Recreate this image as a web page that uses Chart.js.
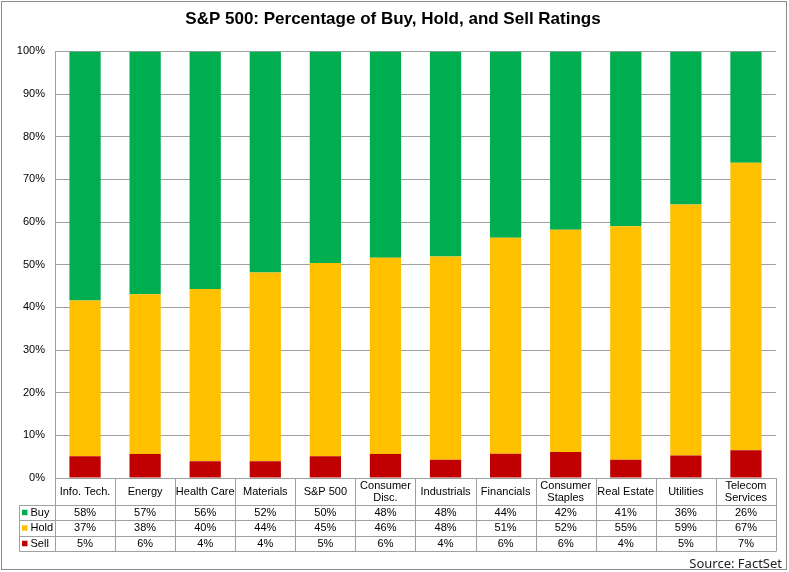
<!DOCTYPE html>
<html>
<head>
<meta charset="utf-8">
<script src="https://cdn.jsdelivr.net/npm/chart.js@4.4.1/dist/chart.umd.min.js"></script>
<style>
  html, body { margin:0; padding:0; background:#fff; }
  #wrap { width:789px; height:572px; position:relative; }
</style>
</head>
<body>
<div id="wrap"><canvas id="chart" width="789" height="572"></canvas></div>
<script>
const categories = [['Info. Tech.'],['Energy'],['Health Care'],['Materials'],['S&P 500'],['Consumer','Disc.'],['Industrials'],['Financials'],['Consumer','Staples'],['Real Estate'],['Utilities'],['Telecom','Services']];
const sellValues = [5.1, 5.6, 3.9, 3.9, 5.1, 5.6, 4.3, 5.7, 6.1, 4.3, 5.3, 6.5];
const holdValues = [36.5, 37.5, 40.4, 44.3, 45.3, 46.0, 47.6, 50.6, 52.1, 54.7, 58.8, 67.4];
const buyValues = [58.4, 56.9, 55.7, 51.8, 49.6, 48.4, 48.1, 43.7, 41.8, 41.0, 35.9, 26.1];
const yTicks = [0, 10, 20, 30, 40, 50, 60, 70, 80, 90, 100];

const GREEN = '#00ad4f', GOLD = '#ffc000', RED = '#c00000';
const FONT = '"Liberation Sans", Arial, sans-serif';
const pct = v => `${Math.round(v)}%`;

// Draws the data table under the plot plus the outer frame and source note.
const tablePlugin = {
  id:'table',
  afterDraw(chart) {
    const {ctx, chartArea:a, scales:{x}} = chart;
    const rows = [
      {label:'Buy', color:GREEN, data:buyValues},
      {label:'Hold', color:GOLD, data:holdValues},
      {label:'Sell', color:RED, data:sellValues}
    ];
    const headTop = a.bottom, headBot = a.bottom + 26.5, rowH = 15.5;
    const tableBot = headBot + rowH * rows.length;
    const legLeft = 19.5;
    const step = x.getPixelForValue(1) - x.getPixelForValue(0);
    ctx.save();
    ctx.strokeStyle = '#a0a0a0';
    ctx.lineWidth = 1;
    ctx.beginPath();
    // horizontal lines
    [headBot, headBot + rowH, headBot + rowH * 2, tableBot].forEach(y => {
      ctx.moveTo(legLeft, Math.round(y) + .5); ctx.lineTo(a.right, Math.round(y) + .5);
    });
    // vertical lines
    for (let i = 0; i <= categories.length; i++) {
      const px = Math.round(x.getPixelForValue(i) - step / 2) + .5;
      ctx.moveTo(px, headTop); ctx.lineTo(px, Math.round(tableBot) + .5);
    }
    ctx.moveTo(legLeft, Math.round(headBot) + .5); ctx.lineTo(legLeft, Math.round(tableBot) + .5);
    ctx.stroke();

    ctx.fillStyle = '#000';
    ctx.textAlign = 'center';
    ctx.textBaseline = 'middle';
    ctx.font = `11px ${FONT}`;
    categories.forEach((lines, i) => {
      const cx = x.getPixelForValue(i);
      const mid = (headTop + headBot) / 2 + .5;
      lines.forEach((t, j) => ctx.fillText(t, cx, mid + (j - (lines.length - 1) / 2) * 12.5));
    });
    rows.forEach((r, ri) => {
      const cy = headBot + rowH * ri + rowH / 2 + .5;
      r.data.forEach((v, i) => ctx.fillText(pct(v), x.getPixelForValue(i), cy));
      ctx.fillStyle = r.color;
      ctx.fillRect(22, cy - 3, 5.5, 5.5);
      ctx.fillStyle = '#000';
      ctx.textAlign = 'left';
      ctx.fillText(r.label, 30.5, cy);
      ctx.textAlign = 'center';
    });

    ctx.textAlign = 'right';
    ctx.font = `13px "Noto Sans", "Open Sans", sans-serif`;
    ctx.fillStyle = '#222';
    ctx.fillText('Source: FactSet', 782, 564);

    ctx.strokeStyle = '#8c8c8c';
    ctx.strokeRect(1.5, 1.5, 785, 568);
    ctx.restore();
  }
};

new Chart(document.getElementById('chart'), {
  type:'bar',
  data:{
    labels:categories,
    datasets:[
      {label:'Sell', data:sellValues, backgroundColor:RED},
      {label:'Hold', data:holdValues, backgroundColor:GOLD},
      {label:'Buy', data:buyValues, backgroundColor:GREEN}
    ]
  },
  options:{
    responsive:false,
    animation:false,
    devicePixelRatio:1,
    layout:{padding:{left:10, right:13, top:0, bottom:94}},
    datasets:{bar:{barPercentage:.52, categoryPercentage:1, borderWidth:0}},
    plugins:{
      legend:{display:false},
      tooltip:{enabled:false},
      title:{
        display:true,
        text:'S&P 500: Percentage of Buy, Hold, and Sell Ratings',
        color:'#000',
        font:{family:FONT, size:17, weight:'bold'},
        padding:{top:9, bottom:22}
      }
    },
    scales:{
      x:{stacked:true, display:false},
      y:{
        stacked:true,
        min:0, max:100,
        afterFit:s => { s.width = 45; },
        afterBuildTicks:s => { s.ticks = yTicks.map(v => ({value:v})); },
        ticks:{callback:v => `${v}%`, color:'#000', font:{family:FONT, size:11}, padding:10},
        grid:{color:'#a0a0a0', drawTicks:false},
        border:{color:'#a0a0a0'}
      }
    }
  },
  plugins:[tablePlugin]
});
</script>
</body>
</html>
